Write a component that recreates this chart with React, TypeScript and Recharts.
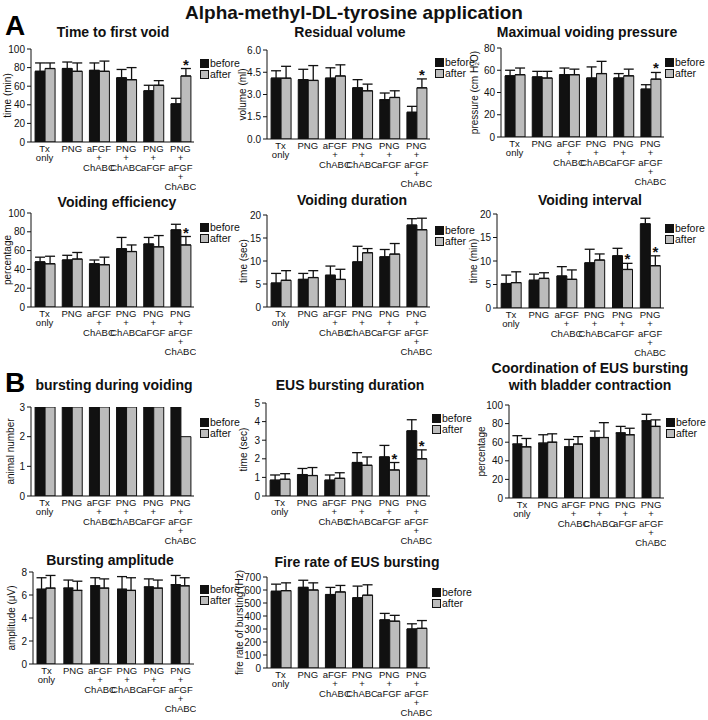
import React from "react";
import { BarChart, Bar, XAxis, YAxis, ErrorBar, LabelList } from "recharts";

const FONT = "'Liberation Sans', Arial, Helvetica, sans-serif";

const groups = [
  "Tx\nonly",
  "PNG",
  "aFGF\n+\nChABC",
  "PNG\n+\nChABC",
  "PNG\n+\naFGF",
  "PNG\n+\naFGF\n+\nChABC",
];

// A - time to first void (min)
const firstVoidBefore = [76, 79, 77, 69, 55, 41];
const firstVoidBeforeErr = [9, 7, 8, 9, 6, 6];
const firstVoidAfter = [79, 76, 76, 67, 61, 71];
const firstVoidAfterErr = [6, 9, 11, 13, 5, 8];
const firstVoidStars = [0, 0, 0, 0, 0, 1];

// A - residual volume (ml)
const residualBefore = [4.1, 4.0, 4.1, 3.45, 2.65, 1.8];
const residualBeforeErr = [0.5, 0.7, 0.7, 0.55, 0.45, 0.4];
const residualAfter = [4.1, 3.95, 4.25, 3.25, 2.8, 3.45];
const residualAfterErr = [0.8, 1.0, 0.75, 0.45, 0.45, 0.6];
const residualStars = [0, 0, 0, 0, 0, 1];

// A - maximal voiding pressure (cm H2O)
const pressureBefore = [55, 54, 56, 53, 53, 43];
const pressureBeforeErr = [5, 5, 6, 10, 4, 4];
const pressureAfter = [56, 53, 56, 57, 55, 52];
const pressureAfterErr = [6, 6, 5, 11, 6, 6];
const pressureStars = [0, 0, 0, 0, 0, 1];

// A - voiding efficiency (%)
const efficiencyBefore = [48, 50, 46, 62, 67, 82];
const efficiencyBeforeErr = [5, 5, 4, 12, 7, 6];
const efficiencyAfter = [46, 51, 45, 59, 64, 66];
const efficiencyAfterErr = [8, 7, 8, 7, 12, 9];
const efficiencyStars = [0, 0, 0, 0, 0, 1];

// A - voiding duration (sec)
const durationBefore = [5.2, 6.0, 6.9, 9.8, 10.9, 17.8];
const durationBeforeErr = [2.1, 1.3, 2.0, 3.4, 1.6, 1.4];
const durationAfter = [5.8, 6.4, 6.0, 11.8, 11.5, 16.8];
const durationAfterErr = [2.1, 1.5, 2.2, 0.9, 2.3, 2.5];
const durationStars = [0, 0, 0, 0, 0, 0];

// A - voiding interval (min)
const intervalBefore = [5.2, 5.9, 6.8, 9.6, 11.1, 17.9];
const intervalBeforeErr = [1.8, 1.3, 2.0, 2.9, 1.6, 1.2];
const intervalAfter = [5.4, 6.3, 6.1, 10.2, 8.2, 9.0];
const intervalAfterErr = [2.3, 1.2, 2.0, 1.3, 1.3, 2.1];
const intervalStars = [0, 0, 0, 0, 1, 1];

// B - bursting during voiding (animal number)
const burstingBefore = [3, 3, 3, 3, 3, 3];
const burstingAfter = [3, 3, 3, 3, 3, 2];
const noErr = [0, 0, 0, 0, 0, 0];

// B - EUS bursting duration (sec)
const eusDurBefore = [0.85, 1.15, 0.85, 1.8, 2.1, 3.5];
const eusDurBeforeErr = [0.28, 0.33, 0.28, 0.53, 0.62, 0.6];
const eusDurAfter = [0.9, 1.1, 0.95, 1.65, 1.4, 2.0];
const eusDurAfterErr = [0.3, 0.43, 0.3, 0.45, 0.4, 0.48];
const eusDurStars = [0, 0, 0, 0, 1, 1];

// B - coordination with bladder contraction (%)
const coordBefore = [58, 59, 55, 65, 70, 83];
const coordBeforeErr = [9, 9, 8, 7, 7, 7];
const coordAfter = [55, 60, 58, 65, 68, 77];
const coordAfterErr = [9, 9, 8, 16, 7, 7];

// B - bursting amplitude (uV)
const amplitudeBefore = [6.5, 6.6, 6.8, 6.5, 6.7, 6.9];
const amplitudeBeforeErr = [1.0, 0.7, 0.7, 1.1, 0.7, 0.8];
const amplitudeAfter = [6.6, 6.4, 6.6, 6.4, 6.6, 6.8];
const amplitudeAfterErr = [1.1, 0.8, 0.8, 1.1, 0.7, 0.7];

// B - fire rate of EUS bursting (Hz)
const fireBefore = [590, 620, 565, 540, 370, 300];
const fireBeforeErr = [55, 55, 55, 90, 50, 40];
const fireAfter = [595, 600, 585, 560, 360, 305];
const fireAfterErr = [60, 55, 50, 80, 45, 60];

function makeRows(before, bErr, after, aErr, stars = noErr) {
  return groups.map((g, i) => ({
    group: g,
    before: before[i],
    after: after[i],
    eB: [0, bErr[i]],
    eA: [0, aErr[i]],
    pad: stars[i] ? aErr[i] : 0,
    star: stars[i] ? "*" : "",
  }));
}

function CatTick({ x, y, payload }) {
  const lines = String(payload.value).split("\n");
  return (
    <text x={x} y={y} textAnchor="middle" fontSize={9.5} fill="#111">
      {lines.map((l, i) => (
        <tspan key={i} x={x} dy={9.6}>
          {l}
        </tspan>
      ))}
    </text>
  );
}

function Title({ x, y, text, size = 14 }) {
  return (
    <div
      style={{
        position: "absolute",
        left: x,
        top: y,
        transform: "translate(-50%, -50%)",
        fontWeight: "bold",
        fontSize: size,
        lineHeight: "17px",
        whiteSpace: "pre",
        textAlign: "center",
        color: "#111",
      }}
    >
      {text}
    </div>
  );
}

function Key({ x, y }) {
  const sq = (bg) => ({
    display: "inline-block",
    width: 7,
    height: 7,
    background: bg,
    border: "1px solid #111",
    marginRight: 1,
  });
  return (
    <div style={{ position: "absolute", left: x, top: y - 6, fontSize: 10.5, lineHeight: "11px", color: "#111" }}>
      <div style={{ display: "flex", alignItems: "center" }}>
        <span style={sq("#111")} />
        before
      </div>
      <div style={{ display: "flex", alignItems: "center" }}>
        <span style={sq("#bcbcbc")} />
        after
      </div>
    </div>
  );
}

function Panel({ p }) {
  const yw = 34;
  const left = p.axisX - yw;
  const top = p.yTop - 8;
  const w = p.plotRight - left + 2;
  const h = p.yBot - top + 52;
  return (
    <>
      <div style={{ position: "absolute", left, top }}>
        <BarChart
          width={w}
          height={h}
          data={p.rows}
          margin={{ top: 8, right: 2, bottom: 0, left: 0 }}
          barCategoryGap="15%"
          barGap={0}
        >
          <XAxis
            dataKey="group"
            interval={0}
            tickLine={false}
            tickSize={0}
            tickMargin={0}
            height={52}
            tick={<CatTick />}
            axisLine={{ stroke: "#111" }}
          />
          <YAxis
            width={yw}
            domain={p.domain}
            ticks={p.ticks}
            interval={0}
            allowDataOverflow
            tickSize={4}
            tickMargin={2}
            tick={{ fontSize: 10, fill: "#111" }}
            tickFormatter={p.fmt}
            axisLine={{ stroke: "#111" }}
            tickLine={{ stroke: "#111" }}
            label={{
              value: p.yLabel,
              angle: -90,
              position: "insideLeft",
              offset: yw - p.gap,
              style: { textAnchor: "middle", fontSize: 10, fill: "#111" },
            }}
          />
          <Bar dataKey="before" stackId="b" fill="#111" stroke="#111" isAnimationActive={false}>
            {p.err && <ErrorBar dataKey="eB" width={5} stroke="#111" strokeWidth={1.3} direction="y" />}
          </Bar>
          <Bar dataKey="after" stackId="a" fill="#bcbcbc" stroke="#111" isAnimationActive={false}>
            {p.err && <ErrorBar dataKey="eA" width={5} stroke="#111" strokeWidth={1.3} direction="y" />}
          </Bar>
          <Bar dataKey="pad" stackId="a" fill="none" isAnimationActive={false}>
            <LabelList dataKey="star" position="top" offset={-1} fontSize={15} fontWeight="bold" fill="#111" />
          </Bar>
        </BarChart>
      </div>
      <Title x={p.tx} y={p.ty} text={p.title} />
      <Key x={p.kx} y={p.ky} />
    </>
  );
}

const step = (max, s) => Array.from({ length: Math.round(max / s) + 1 }, (_, i) => i * s);

const panels = [
  {
    title: "Time to first void", tx: 113, ty: 32, axisX: 31, yTop: 49, yBot: 142, plotRight: 194,
    domain: [0, 100], ticks: step(100, 20), yLabel: "time (min)", gap: 24, kx: 200, ky: 64, err: true,
    rows: makeRows(firstVoidBefore, firstVoidBeforeErr, firstVoidAfter, firstVoidAfterErr, firstVoidStars),
  },
  {
    title: "Residual volume", tx: 350, ty: 32, axisX: 267, yTop: 50, yBot: 139, plotRight: 430,
    domain: [0, 6], ticks: step(6, 1.5), fmt: (v) => v.toFixed(1), yLabel: "volume (ml)", gap: 25,
    kx: 435, ky: 63, err: true,
    rows: makeRows(residualBefore, residualBeforeErr, residualAfter, residualAfterErr, residualStars),
  },
  {
    title: "Maximual voiding pressure", tx: 587, ty: 32, axisX: 501, yTop: 48, yBot: 137, plotRight: 664,
    domain: [0, 80], ticks: step(80, 20), yLabel: "pressure (cm H\u2082O)", gap: 27, kx: 665, ky: 63, err: true,
    rows: makeRows(pressureBefore, pressureBeforeErr, pressureAfter, pressureAfterErr, pressureStars),
  },
  {
    title: "Voiding efficiency", tx: 117, ty: 202, axisX: 31, yTop: 213, yBot: 307, plotRight: 194,
    domain: [0, 100], ticks: step(100, 20), yLabel: "percentage", gap: 24, kx: 200, ky: 228, err: true,
    rows: makeRows(efficiencyBefore, efficiencyBeforeErr, efficiencyAfter, efficiencyAfterErr, efficiencyStars),
  },
  {
    title: "Voiding duration", tx: 352, ty: 200, axisX: 267, yTop: 215, yBot: 307, plotRight: 430,
    domain: [0, 20], ticks: step(20, 5), yLabel: "time (sec)", gap: 24, kx: 435, ky: 231, err: true,
    rows: makeRows(durationBefore, durationBeforeErr, durationAfter, durationAfterErr, durationStars),
  },
  {
    title: "Voiding interval", tx: 590, ty: 200, axisX: 497, yTop: 214, yBot: 308, plotRight: 664,
    domain: [0, 20], ticks: step(20, 5), yLabel: "time (min)", gap: 24, kx: 665, ky: 229, err: true,
    rows: makeRows(intervalBefore, intervalBeforeErr, intervalAfter, intervalAfterErr, intervalStars),
  },
  {
    title: "bursting during voiding", tx: 114, ty: 385, axisX: 31, yTop: 407, yBot: 496, plotRight: 194,
    domain: [0, 3], ticks: step(3, 1), yLabel: "animal number", gap: 21, kx: 200, ky: 423, err: false,
    rows: makeRows(burstingBefore, noErr, burstingAfter, noErr),
  },
  {
    title: "EUS bursting duration", tx: 350, ty: 385, axisX: 266, yTop: 403, yBot: 496, plotRight: 430,
    domain: [0, 5], ticks: step(5, 1), yLabel: "time (sec)", gap: 23, kx: 432, ky: 419, err: true,
    rows: makeRows(eusDurBefore, eusDurBeforeErr, eusDurAfter, eusDurAfterErr, eusDurStars),
  },
  {
    title: "Coordination of EUS bursting\nwith bladder contraction", tx: 590, ty: 377, axisX: 509, yTop: 405,
    yBot: 498, plotRight: 664, domain: [0, 100], ticks: step(100, 20), yLabel: "percentage", gap: 28,
    kx: 666, ky: 423, err: true,
    rows: makeRows(coordBefore, coordBeforeErr, coordAfter, coordAfterErr),
  },
  {
    title: "Bursting amplitude", tx: 110, ty: 560, axisX: 33, yTop: 572, yBot: 664, plotRight: 194,
    domain: [0, 8], ticks: step(8, 2), yLabel: "amplitude (\u03bcV)", gap: 22, kx: 200, ky: 590, err: true,
    rows: makeRows(amplitudeBefore, amplitudeBeforeErr, amplitudeAfter, amplitudeAfterErr),
  },
  {
    title: "Fire rate of EUS bursting", tx: 357, ty: 562, axisX: 267, yTop: 577, yBot: 668, plotRight: 430,
    domain: [0, 700], ticks: step(700, 100), yLabel: "fire rate of bursting (Hz)", gap: 28, kx: 432, ky: 593,
    err: true,
    rows: makeRows(fireBefore, fireBeforeErr, fireAfter, fireAfterErr),
  },
];

export default function App() {
  return (
    <div
      style={{
        position: "absolute",
        left: 0,
        top: 0,
        width: 708,
        height: 720,
        background: "#fff",
        fontFamily: FONT,
        overflow: "hidden",
      }}
    >
      <Title x={354} y={12} text="Alpha-methyl-DL-tyrosine application" size={19} />
      <div style={{ position: "absolute", left: 5, top: 10, fontSize: 28, fontWeight: "bold" }}>A</div>
      <div style={{ position: "absolute", left: 5, top: 367, fontSize: 28, fontWeight: "bold" }}>B</div>
      {panels.map((p, i) => (
        <Panel key={i} p={p} />
      ))}
    </div>
  );
}
